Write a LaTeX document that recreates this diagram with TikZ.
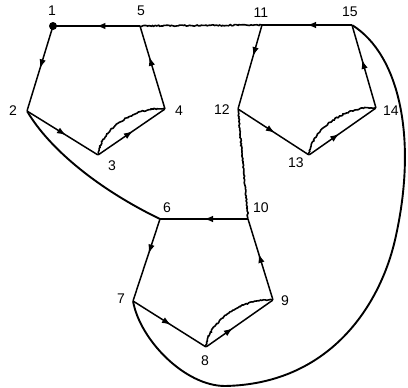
\documentclass[tikz,border=0pt]{standalone}
\usepackage{fontspec}
\setmainfont{Liberation Sans}
\usetikzlibrary{decorations.markings,decorations.pathmorphing,arrows.meta}
\begin{document}
\begin{tikzpicture}[x=1pt,y=-1pt,
 v/.style={inner sep=0pt,minimum size=0pt},
 dotv/.style={circle,fill,inner sep=0pt,minimum size=8pt},
 lbl/.style={font=\fontsize{14}{14}\selectfont,inner sep=0pt},
 edgeline/.style={line width=1.5pt},
 arr/.style={edgeline,postaction={decorate},decoration={markings,mark=at position #1 with {\arrow{Latex[length=9pt,width=6.5pt]}}}},
 arr/.default=0.5,
 wavy/.style={line width=1.6pt,decorate,decoration={random steps,segment length=1.5pt,amplitude=0.6pt}},
 thickcurve/.style={line width=1.9pt}
]
\useasboundingbox (0,0) rectangle (408,388);
% vertices
\node[dotv] (n1) at (53,26) {};
\node[v] (n5) at (140,26) {};
\node[v] (n2) at (27,111) {};
\node[v] (n3) at (98,155) {};
\node[v] (n4) at (165,109) {};
\node[v] (n11) at (262,25) {};
\node[v] (n15) at (352,25) {};
\node[v] (n12) at (238,109) {};
\node[v] (n13) at (309,155) {};
\node[v] (n14) at (376,108) {};
\node[v] (n6) at (160,219) {};
\node[v] (n10) at (248,219) {};
\node[v] (n7) at (133,301) {};
\node[v] (n8) at (206,347) {};
\node[v] (n9) at (273,300) {};
% labels
\node[lbl] (l1) at (52,11) {1};
\node[lbl] (l5) at (141,11) {5};
\node[lbl] (l11) at (261,13) {11};
\node[lbl] (l15) at (350,12) {15};
\node[lbl] (l2) at (13,111) {2};
\node[lbl] (l3) at (112,166) {3};
\node[lbl] (l4) at (179,111) {4};
\node[lbl] (l12) at (222,110) {12};
\node[lbl] (l13) at (296,163) {13};
\node[lbl] (l14) at (391,111) {14};
\node[lbl] (l6) at (167,208) {6};
\node[lbl] (l10) at (261,208) {10};
\node[lbl] (l7) at (121,299) {7};
\node[lbl] (l8) at (205,361) {8};
\node[lbl] (l9) at (285,301) {9};
% pentagon 1
\draw[arr=0.5] (n5) -- (n1.center);
\draw[arr=0.5] (n1.center) -- (n2);
\draw[arr=0.55] (n2) -- (n3);
\draw[arr=0.52] (n3) -- (n4);
\draw[arr=0.63] (n4) -- (n5);
\draw[wavy] (n3) .. controls (100,130) and (135,106) .. (n4);
% pentagon 2
\draw[arr=0.5] (n15) -- (n11);
\draw[arr=0.37] (n11) -- (n12);
\draw[arr=0.52] (n12) -- (n13);
\draw[arr=0.45] (n13) -- (n14);
\draw[arr=0.58] (n14) -- (n15);
\draw[wavy] (n13) .. controls (311,130) and (346,105) .. (n14);
% pentagon 3
\draw[arr=0.5] (n10) -- (n6);
\draw[arr=0.42] (n6) -- (n7);
\draw[arr=0.52] (n7) -- (n8);
\draw[arr=0.4] (n8) -- (n9);
\draw[arr=0.57] (n9) -- (n10);
\draw[wavy] (n8) .. controls (208,322) and (243,297) .. (n9);
% connections
\draw[wavy] (n5) -- (n11);
\draw[wavy] (n12) -- (n10);
\draw[thickcurve] (n2) .. controls (50,150) and (100,190) .. (n6);
\draw[thickcurve] (n15) .. controls (400,55) and (418,140) .. (395,240)
  .. controls (380,305) and (330,384) .. (225,386)
  .. controls (185,386) and (140,340) .. (n7);
\end{tikzpicture}
\end{document}
